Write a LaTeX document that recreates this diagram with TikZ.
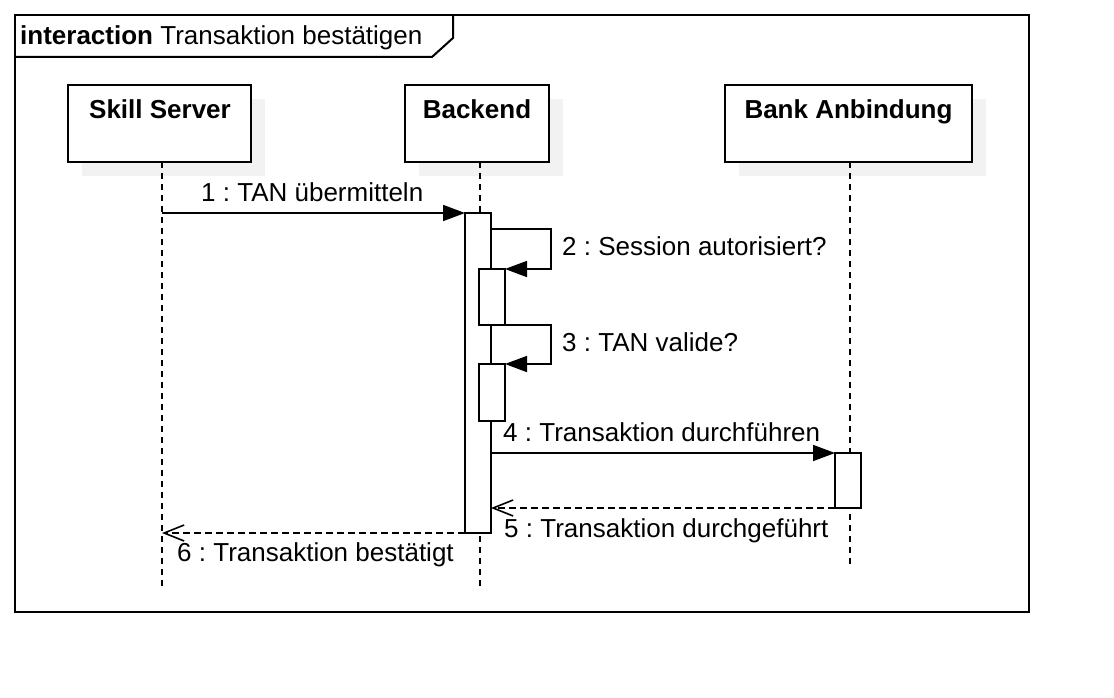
\documentclass[tikz,border=0pt]{standalone}
\usepackage{fontspec}
\setmainfont{Liberation Sans}
\usetikzlibrary{arrows.meta}
\definecolor{shadowgray}{HTML}{F2F2F2}
\frenchspacing
\begin{document}
\begin{tikzpicture}[x=1pt,y=-1pt,
  headbox/.style={draw, line width=2pt, fill=white, inner sep=0pt, outer sep=0pt, minimum height=77pt},
  shadowbox/.style={fill=shadowgray, draw=none, inner sep=0pt, outer sep=0pt, minimum height=77pt},
  lifeline/.style={line width=1.5pt, dash pattern=on 6pt off 5pt},
  bar/.style={draw, line width=1.8pt, fill=white, inner sep=0pt, outer sep=0pt, minimum width=26pt},
  msg/.style={line width=1.6pt, -{Triangle[length=22pt,width=16pt]}},
  selfmsg/.style={line width=1.6pt, -{Triangle[length=22pt,width=16pt]}},
  ret/.style={line width=1.6pt, dash pattern=on 7pt off 4pt, -{Straight Barb[length=20pt,width=16pt,line width=1.6pt]}},
  lbl/.style={font=\fontsize{26}{31}\selectfont, inner sep=0pt, anchor=base west},
  headlbl/.style={font=\fontsize{26}{31}\selectfont\bfseries, inner sep=0pt, anchor=base},
  framestyle/.style={draw, line width=2pt, inner sep=0pt, outer sep=0pt, anchor=north west}
]
\useasboundingbox (0,0) rectangle (1114,698);

% frame
\node[framestyle, minimum width=1014pt, minimum height=597pt] (frame) at (15,15) {};
\coordinate (h1) at (15,57);
\coordinate (h2) at (432,57);
\coordinate (h3) at (453,38);
\coordinate (h4) at (453,15);
\draw[line width=2pt] (h1) -- (h2) -- (h3) -- (h4);
\node[lbl] (title) at (20,45) {\textbf{interaction} Transaktion bestätigen};

% shadows
\node[shadowbox, minimum width=183pt] (ssS) at (173.5,137.5) {};
\node[shadowbox, minimum width=144pt] (beS) at (491,137.5) {};
\node[shadowbox, minimum width=247pt] (baS) at (862.5,137.5) {};

% heads
\node[headbox, minimum width=183pt] (ss) at (159.5,123.5) {};
\node[headbox, minimum width=144pt] (be) at (477,123.5) {};
\node[headbox, minimum width=247pt] (ba) at (848.5,123.5) {};
\node[headlbl] (ssT) at (160,119) {Skill Server};
\node[headlbl] (beT) at (477,119) {Backend};
\node[headlbl] (baT) at (848.5,119) {Bank Anbindung};

% lifelines
\coordinate (ssl) at (162,162);
\coordinate (bel) at (480,162);
\coordinate (bal) at (850,162);
\coordinate (ssE) at (162,590);
\coordinate (beE) at (480,590);
\coordinate (baE) at (850,566);
\draw[lifeline] (ssl) -- (ssE);
\draw[lifeline] (bel) -- (beE);
\draw[lifeline] (bal) -- (baE);

% activation bars
\node[bar, minimum height=320pt] (act1) at (478,373) {};
\node[bar, minimum height=56pt] (act2) at (492,297) {};
\node[bar, minimum height=57pt] (act3) at (492,392.5) {};
\node[bar, minimum height=55pt] (act4) at (848,480.5) {};

% messages
\draw[msg] (ssl |- act1.north) -- (act1.north west);
\node[lbl] (m1) at (201,201) {1 : TAN übermitteln};

\coordinate (s2a) at (551,229);
\coordinate (s2b) at (551,269);
\draw[selfmsg] (act1.east |- s2a) -- (s2a) -- (s2b) -- (act2.north east);
\node[lbl] (m2) at (562,255) {2 : Session autorisiert?};

\coordinate (s3a) at (551,325);
\coordinate (s3b) at (551,364);
\draw[selfmsg] (act1.east |- s3a) -- (s3a) -- (s3b) -- (act3.north east);
\node[lbl] (m3) at (562,351) {3 : TAN valide?};

\draw[msg] (act1.east |- act4.north) -- (act4.north west);
\node[lbl] (m4) at (503,441) {4 : Transaktion durchführen};

\draw[ret] (act4.south west) -- (act1.east |- act4.south);
\node[lbl] (m5) at (504,537) {5 : Transaktion durchgeführt};

\draw[ret] (act1.south west) -- (ssl |- act1.south);
\node[lbl] (m6) at (177,561) {6 : Transaktion bestätigt};
\end{tikzpicture}
\end{document}
